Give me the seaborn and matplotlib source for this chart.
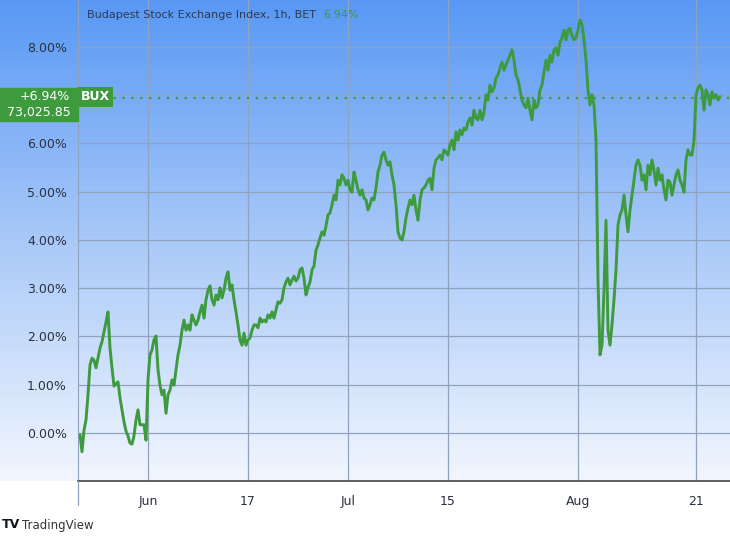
import numpy as np
import pandas as pd
import matplotlib
matplotlib.use("Agg")
import matplotlib.pyplot as plt
import seaborn as sns

# hourly samples, x in trading sessions relative to Jun 3 (every 0.2 session)
change_pct = [
    -0.04, -0.39, 0.06, 0.27, 0.79, 1.41, 1.55, 1.51, 1.35, 1.55,
    1.76, 1.89, 2.09, 2.30, 2.51, 1.76, 1.35, 0.97, 1.02, 1.06,
    0.73, 0.48, 0.23, 0.04, -0.06, -0.21, -0.23, -0.06, 0.27, 0.48,
    0.17, 0.17, 0.17, -0.15, 1.10, 1.62, 1.72, 1.93, 2.01, 1.31,
    0.99, 0.79, 0.89, 0.41, 0.79, 0.89, 1.10, 0.99, 1.31, 1.62,
    1.82, 2.13, 2.34, 2.13, 2.24, 2.13, 2.45, 2.34, 2.24, 2.34,
    2.51, 2.65, 2.38, 2.76, 2.96, 3.05, 2.76, 2.65, 2.86, 2.76,
    3.01, 2.80, 2.96, 3.21, 3.34, 2.96, 3.07, 2.76, 2.51, 2.24,
    1.93, 1.82, 2.07, 1.82, 1.93, 1.97, 2.13, 2.24, 2.24, 2.18,
    2.38, 2.30, 2.34, 2.30, 2.45, 2.38, 2.51, 2.38, 2.55, 2.72,
    2.69, 2.76, 3.01, 3.13, 3.21, 3.07, 3.17, 3.25, 3.15, 3.21,
    3.38, 3.42, 3.21, 2.86, 3.01, 3.13, 3.38, 3.46, 3.79, 3.90,
    4.04, 4.17, 4.10, 4.29, 4.52, 4.56, 4.73, 4.93, 4.83, 5.24,
    5.14, 5.35, 5.28, 5.14, 5.24, 5.04, 4.99, 5.41, 5.24, 5.04,
    4.93, 5.04, 4.87, 4.83, 4.62, 4.73, 4.87, 4.83, 5.08, 5.41,
    5.55, 5.76, 5.82, 5.66, 5.55, 5.62, 5.35, 5.14, 4.73, 4.17,
    4.04, 4.00, 4.17, 4.46, 4.66, 4.83, 4.73, 4.93, 4.62, 4.41,
    4.83, 5.04, 5.08, 5.14, 5.24, 5.28, 5.04, 5.49, 5.66, 5.70,
    5.76, 5.66, 5.87, 5.82, 5.76, 5.97, 6.07, 5.87, 6.24, 6.07,
    6.28, 6.18, 6.32, 6.28, 6.45, 6.53, 6.38, 6.69, 6.53, 6.49,
    6.69, 6.49, 6.65, 7.01, 6.90, 7.21, 7.07, 7.15, 7.36, 7.42,
    7.56, 7.69, 7.52, 7.63, 7.73, 7.83, 7.94, 7.73, 7.42, 7.32,
    7.11, 6.90, 6.80, 6.74, 6.94, 6.69, 6.49, 6.90, 6.74, 6.80,
    7.11, 7.21, 7.48, 7.73, 7.52, 7.83, 7.69, 7.94, 7.98, 7.83,
    8.10, 8.19, 8.35, 8.15, 8.35, 8.39, 8.23, 8.15, 8.19, 8.35,
    8.56, 8.46, 8.15, 7.73, 7.11, 6.80, 7.01, 6.80, 6.07, 3.17,
    1.62, 1.82, 2.96, 4.41, 2.13, 1.82, 2.24, 2.76, 3.38, 4.31,
    4.52, 4.62, 4.93, 4.52, 4.17, 4.62, 4.93, 5.24, 5.55, 5.66,
    5.55, 5.24, 5.35, 5.04, 5.55, 5.35, 5.66, 5.45, 5.14, 5.49,
    5.24, 5.35, 5.04, 4.83, 5.24, 5.20, 4.93, 5.14, 5.35, 5.45,
    5.24, 5.14, 4.99, 5.66, 5.87, 5.76, 5.76, 6.07, 7.01, 7.15,
    7.21, 7.11, 6.69, 7.11, 7.01, 6.80, 7.07, 6.94, 7.01, 6.90,
    6.97,
]
sessions = -6.8 + 0.2 * np.arange(len(change_pct))

tick_pos = [0, 10, 20, 30, 43, 54.8]
tick_labels = ["Jun", "17", "Jul", "15", "Aug", "21"]
y_ticks = [0, 1, 2, 3, 4, 5, 6, 7, 8]
last_pct = 6.94
last_price = "73,025.85"

df = pd.DataFrame({"session": sessions, "change": change_pct})

sns.set_style("white")
plt.rcParams['font.family'] = ['DejaVu Sans']

W, H = 730, 537
fig = plt.figure(figsize=(W / 100, H / 100), dpi=100)
green = "#3d9a3d"

# blue gradient background behind plot + y-label area
bg = fig.add_axes([0, 1 - 481 / H, 1, 481 / H])
grad = np.linspace(0, 1, 256).reshape(-1, 1)
cmap = matplotlib.colors.LinearSegmentedColormap.from_list("bg", ["#5898f4", "#a9c9f8", "#f2f6fe"])
bg.imshow(grad, aspect="auto", cmap=cmap, extent=[0, 1, 0, 1])
bg.axis("off")

ax = fig.add_axes([78 / W, 1 - 481 / H, 1 - 78 / W, 481 / H])
ax.patch.set_alpha(0)
ax.set_xlim(-7.0, 58.2)
ax.set_ylim(-0.995, 8.974)

for y in y_ticks:
    ax.axhline(y, color="#8fa3bf", lw=0.9, zorder=0)
for x in tick_pos:
    ax.axvline(x, color="#8fa3bf", lw=0.9, zorder=0)

sns.lineplot(data=df, x="session", y="change", ax=ax, color=green, lw=2.1, zorder=3)
ax.axhline(last_pct, color=green, lw=1.6, ls=(0, (1, 3)), zorder=2)

ax.set_xticks(tick_pos)
ax.set_xticklabels(tick_labels)
ax.set_yticks(y_ticks)
ax.set_yticklabels([f"{v:.2f}%" for v in y_ticks])
ax.tick_params(axis="both", length=0, labelsize=9, colors="#2a3140")
ax.tick_params(axis="x", pad=10)
ax.tick_params(axis="y", pad=8)
ax.set_xlabel("")
ax.set_ylabel("")
for s in ["top", "right"]:
    ax.spines[s].set_visible(False)
ax.spines["left"].set_color("#8fa3bf")
ax.spines["bottom"].set_color("#444444")
ax.spines["bottom"].set_linewidth(1.2)

# left divider continues into the date strip
fig.add_artist(plt.Line2D([78 / W, 78 / W], [1 - 505 / H, 1 - 481 / H], color="#8fa3bf", lw=0.9))

# title
title = fig.text(87 / W, 1 - 15 / H, "Budapest Stock Exchange Index, 1h, BET", fontsize=8,
                 color="#2a3a55", va="center")
fig.canvas.draw()
tb = title.get_window_extent()
fig.text((tb.x1 + 7) / W, 1 - 15 / H, "6.94%", fontsize=8, color=green, va="center")

# last value labels
fig.patches.append(matplotlib.patches.Rectangle((0, 1 - 121 / H), 78 / W, 33 / H, transform=fig.transFigure,
                                                color=green, zorder=1))
fig.text(70 / W, 1 - 97 / H, f"+{last_pct:.2f}%", fontsize=9, color="white", ha="right", va="center")
fig.text(39 / W, 1 - 113 / H, last_price, fontsize=9, color="white", ha="center", va="center")
fig.text(95 / W, 1 - 97 / H, "BUX", fontsize=9, color="white", ha="center", va="center", fontweight="bold",
         bbox=dict(boxstyle="square,pad=0.3", fc=green, ec="none"))

# footer
fig.text(2 / W, 1 - 525 / H, "TV", fontsize=9, fontweight="bold", color="#131722", va="center")
fig.text(22 / W, 1 - 525 / H, "TradingView", fontsize=8.5, color="#333333", va="center")

fig.savefig("out.png", dpi=100)
